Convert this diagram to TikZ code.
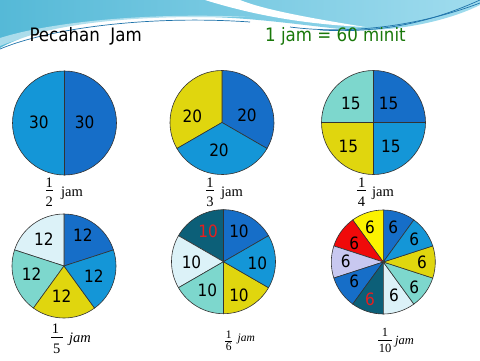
\documentclass[tikz,border=0pt]{standalone}
\usepackage{fontspec}
\setmainfont{Liberation Serif}
\newfontfamily\dv{DejaVu Sans}[FakeStretch=0.9]
\definecolor{dblue}{RGB}{22,110,200}
\definecolor{mblue}{RGB}{20,150,215}
\definecolor{yel}{RGB}{224,214,14}
\definecolor{lteal}{RGB}{125,215,205}
\definecolor{vlight}{RGB}{220,242,248}
\definecolor{dteal}{RGB}{12,95,120}
\definecolor{byel}{RGB}{252,242,0}
\definecolor{pred}{RGB}{240,10,10}
\definecolor{lav}{RGB}{200,200,240}
\definecolor{tred}{RGB}{230,30,30}
\definecolor{hgreen}{RGB}{25,120,10}
\definecolor{bgA}{RGB}{85,185,215}
\definecolor{bgB}{RGB}{160,220,238}
\definecolor{bgline}{RGB}{30,115,170}
\tikzset{
 num/.style={inner sep=0pt,font=\dv\fontsize{17}{17}\selectfont},
 hdr/.style={inner sep=0pt,anchor=base west,font=\dv\fontsize{18.5}{18.5}\selectfont},
 fr/.style={inner sep=0pt},
 fbar/.style={fill=black,inner sep=0pt,minimum height=0.8pt},
 jam/.style={inner sep=0pt,anchor=base west},
 slice/.style={draw=black!80,line width=0.6pt},
 bgl/.style={draw=bgline,line width=0.7pt}
}
\newcommand\pieslice[4]{\filldraw[slice,fill=#4] (#1) -- ++(#2:52pt) arc[start angle=#2,end angle=#3,radius=52pt] -- cycle;}
\begin{document}
\begin{tikzpicture}[x=1pt,y=1pt]
\useasboundingbox (0,0) rectangle (480,360);
\fill[white] (0,0) rectangle (480,360);
% background swoosh
\shade[left color=bgA,right color=bgB] (0,360) -- (480,360) -- (480,355) .. controls (450,340) and (400,328) .. (350,330) .. controls (300,335) and (250,343) .. (200,343) .. controls (120,343) and (40,335) .. (0,312) -- cycle;
\fill[white] (205,360) .. controls (250,346) and (300,336) .. (365,333) .. controls (310,342) and (265,350) .. (240,360) -- cycle;
\fill[white,opacity=0.5] (0,322) .. controls (50,338) and (150,348) .. (250,343) .. controls (150,344) and (50,335) .. (0,314) -- cycle;
\draw[bgl] (0,311) .. controls (50,332) and (150,345) .. (250,338);
\draw[bgl] (290,333) .. controls (360,324) and (430,338) .. (480,357);
\draw[bgl] (320,330) .. controls (390,326) and (440,342) .. (480,360);
% header
\node[hdr] (title) at (29.3,318.3) {Pecahan\ \ Jam};
\node[hdr,text=hgreen] (eq) at (265,318.3) {1 jam = 60 minit};
% centres
\coordinate (c1) at (64.5,237);
\coordinate (c2) at (222,237.5);
\coordinate (c3) at (373.5,237.5);
\coordinate (c4) at (64,94);
\coordinate (c5) at (223.5,98.3);
\coordinate (c6) at (383.3,98);
% circle 1
\pieslice{c1}{90}{270}{mblue}
\pieslice{c1}{-90}{90}{dblue}
\node[num] (a1) at ([shift={(-25.7,1)}]c1) {30};
\node[num] (a2) at ([shift={(20.2,1)}]c1) {30};
% circle 2
\pieslice{c2}{-30}{90}{dblue}
\pieslice{c2}{90}{210}{yel}
\pieslice{c2}{210}{330}{mblue}
\node[num] (b1) at ([shift={(25,6.8)}]c2) {20};
\node[num] (b2) at ([shift={(-29.7,5.8)}]c2) {20};
\node[num] (b3) at ([shift={(-3,-27.8)}]c2) {20};
% circle 3
\pieslice{c3}{0}{90}{dblue}
\pieslice{c3}{90}{180}{lteal}
\pieslice{c3}{180}{270}{yel}
\pieslice{c3}{270}{360}{mblue}
\node[num] (d1) at ([shift={(-22.7,19.5)}]c3) {15};
\node[num] (d2) at ([shift={(15.2,19.5)}]c3) {15};
\node[num] (d3) at ([shift={(-25.2,-23.8)}]c3) {15};
\node[num] (d4) at ([shift={(17.3,-23.8)}]c3) {15};
% circle 4
\pieslice{c4}{18}{90}{dblue}
\pieslice{c4}{90}{162}{vlight}
\pieslice{c4}{162}{234}{lteal}
\pieslice{c4}{234}{306}{yel}
\pieslice{c4}{306}{378}{mblue}
\node[num] (e1) at ([shift={(18.8,31)}]c4) {12};
\node[num] (e2) at ([shift={(29.8,-10)}]c4) {12};
\node[num] (e3) at ([shift={(-2.3,-30)}]c4) {12};
\node[num] (e4) at ([shift={(-32.3,-7.7)}]c4) {12};
\node[num] (e5) at ([shift={(-20.2,26.7)}]c4) {12};
% circle 5
\pieslice{c5}{30}{90}{dblue}
\pieslice{c5}{90}{150}{dteal}
\pieslice{c5}{150}{210}{vlight}
\pieslice{c5}{210}{270}{lteal}
\pieslice{c5}{270}{330}{yel}
\pieslice{c5}{330}{390}{mblue}
\node[num] (g1) at ([shift={(15.5,30.5)}]c5) {10};
\node[num,text=tred] (g2) at ([shift={(-15.4,30)}]c5) {10};
\node[num] (g3) at ([shift={(33.8,-1.6)}]c5) {10};
\node[num] (g4) at ([shift={(15.5,-33.3)}]c5) {10};
\node[num] (g5) at ([shift={(-16.2,-28.6)}]c5) {10};
\node[num] (g6) at ([shift={(-32,-1)}]c5) {10};
% circle 6
\pieslice{c6}{54}{90}{dblue}
\pieslice{c6}{90}{126}{byel}
\pieslice{c6}{126}{162}{pred}
\pieslice{c6}{162}{198}{lav}
\pieslice{c6}{198}{234}{dblue}
\pieslice{c6}{234}{270}{dteal}
\pieslice{c6}{270}{306}{vlight}
\pieslice{c6}{306}{342}{lteal}
\pieslice{c6}{342}{378}{yel}
\pieslice{c6}{378}{414}{mblue}
\node[num] (h1) at ([shift={(10,34.7)}]c6) {6};
\node[num] (h2) at ([shift={(31,23)}]c6) {6};
\node[num] (h3) at ([shift={(38.7,-0.3)}]c6) {6};
\node[num] (h4) at ([shift={(31,-25.7)}]c6) {6};
\node[num] (h5) at ([shift={(10.7,-33)}]c6) {6};
\node[num,text=tred] (h6) at ([shift={(-13.3,-37.3)}]c6) {6};
\node[num] (h7) at ([shift={(-29,-19.7)}]c6) {6};
\node[num] (h8) at ([shift={(-37.6,0.3)}]c6) {6};
\node[num] (h9) at ([shift={(-29,18.7)}]c6) {6};
\node[num] (h10) at ([shift={(-13.3,34.7)}]c6) {6};
% fractions top row
\begin{scope}[every node/.append style={font=\fontsize{14.5}{14.5}\selectfont}]
\node[fr] (n1) at (49.2,177.7) {1};
\node[fbar,minimum width=7pt] (r1) at (49.2,169.3) {};
\node[fr] (m1) at (49.2,158.5) {2};
\node[jam] (j1) at (61,164) {jam};
\node[fr] (n2) at (210,177.7) {1};
\node[fbar,minimum width=8pt] (r2) at (209.8,169.3) {};
\node[fr] (m2) at (210,158.5) {3};
\node[jam] (j2) at (221,164) {jam};
\node[fr] (n3) at (361.7,177.7) {1};
\node[fbar,minimum width=9pt] (r3) at (361.3,169.3) {};
\node[fr] (m3) at (361.5,158.5) {4};
\node[jam] (j3) at (372,164) {jam};
\node[fr] (n4) at (55.5,31.3) {1};
\node[fbar,minimum width=11.7pt] (r4) at (56.8,22.3) {};
\node[fr] (m4) at (56.7,11.2) {5};
\node[jam] (j4) at (69,18) {\itshape jam};
\end{scope}
\begin{scope}[every node/.append style={font=\fontsize{11.5}{11.5}\selectfont}]
\node[fr] (n5) at (228.7,25.3) {1};
\node[fbar,minimum width=6.7pt,minimum height=0.6pt] (r5) at (228.3,19) {};
\node[fr] (m5) at (228.7,12.8) {6};
\node[jam] (j5) at (237.5,18.3) {\itshape jam};
\end{scope}
\begin{scope}[every node/.append style={font=\fontsize{12.5}{12.5}\selectfont}]
\node[fr] (n6) at (385,27.5) {1};
\node[fbar,minimum width=13.4pt,minimum height=0.7pt] (r6) at (385,20) {};
\node[fr] (m6) at (385,11.7) {10};
\node[jam] (j6) at (395,16) {\itshape jam};
\end{scope}
\end{tikzpicture}
\end{document}
